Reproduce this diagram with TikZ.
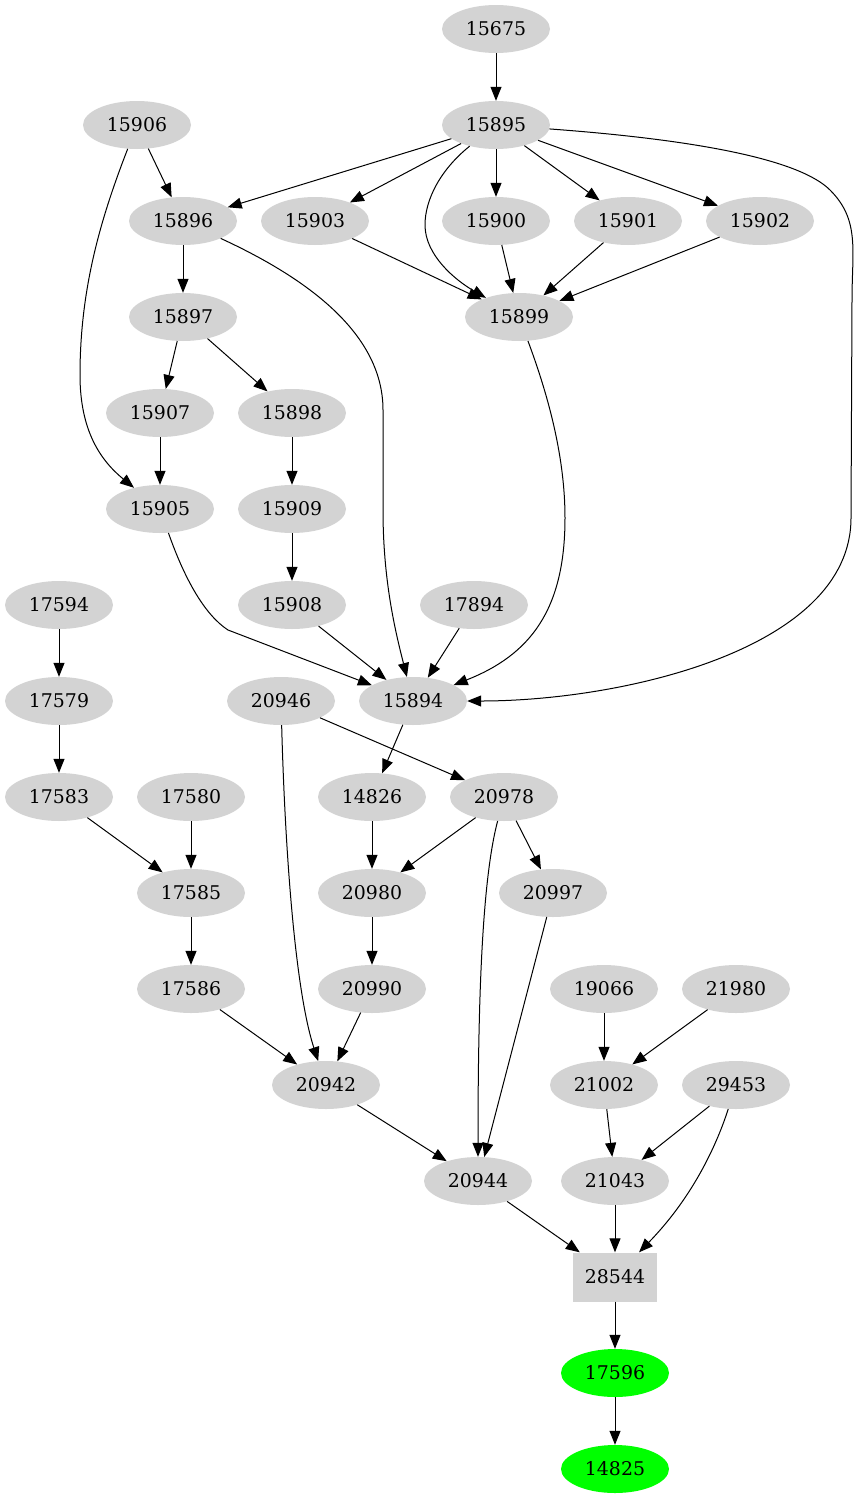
\documentclass[tikz,border=0pt]{standalone}
\usepackage{fontspec}
\setmainfont{DejaVu Serif}
\usetikzlibrary{arrows.meta,shapes.geometric}
\definecolor{ngray}{HTML}{D3D3D3}
\definecolor{ngreen}{HTML}{00FF00}
\begin{document}
\begin{tikzpicture}[x=1pt,y=-1pt,
  nd/.style={ellipse,fill=ngray,minimum width=108pt,minimum height=48pt,inner sep=0pt,font=\fontsize{18.9}{20}\selectfont},
  gn/.style={nd,fill=ngreen},
  bx/.style={rectangle,fill=ngray,minimum width=84pt,minimum height=49pt,inner sep=0pt,font=\fontsize{18.9}{20}\selectfont},
  e/.style={-{Triangle[length=14pt,width=11pt]},line width=1pt}]
\useasboundingbox (0,0) rectangle (860,1499);
% rank 0
\node[nd] (n15675) at (496,29) {15675};
% rank 1
\node[nd] (n15906) at (137,125) {15906};
\node[nd] (n15895) at (496,125) {15895};
% rank 2
\node[nd] (n15896) at (183,221) {15896};
\node[nd] (n15903) at (315,221) {15903};
\node[nd] (n15900) at (496,221) {15900};
\node[nd] (n15901) at (628,221) {15901};
\node[nd] (n15902) at (760,221) {15902};
% rank 3
\node[nd] (n15897) at (183,317) {15897};
\node[nd] (n15899) at (519,317) {15899};
% rank 4
\node[nd] (n15907) at (160,413) {15907};
\node[nd] (n15898) at (292,413) {15898};
% rank 5
\node[nd] (n15905) at (160,509) {15905};
\node[nd] (n15909) at (292,509) {15909};
% rank 6
\node[nd] (n17594) at (59,605) {17594};
\node[nd] (n15908) at (292,605) {15908};
\node[nd] (n17894) at (474,605) {17894};
% rank 7
\node[nd] (n17579) at (59,701) {17579};
\node[nd] (n20946) at (281,701) {20946};
\node[nd] (n15894) at (413,701) {15894};
% rank 8
\node[nd] (n17583) at (59,797) {17583};
\node[nd] (n17580) at (191,797) {17580};
\node[nd] (n14826) at (372,797) {14826};
\node[nd] (n20978) at (504,797) {20978};
% rank 9
\node[nd] (n17585) at (191,893) {17585};
\node[nd] (n20980) at (372,893) {20980};
\node[nd] (n20997) at (553,893) {20997};
% rank 10
\node[nd] (n17586) at (191,989) {17586};
\node[nd] (n20990) at (372,989) {20990};
\node[nd] (n19066) at (604,989) {19066};
\node[nd] (n21980) at (736,989) {21980};
% rank 11
\node[nd] (n20942) at (326,1085) {20942};
\node[nd] (n21002) at (604,1085) {21002};
\node[nd] (n29453) at (736,1085) {29453};
% rank 12
\node[nd] (n20944) at (478,1181) {20944};
\node[nd] (n21043) at (615,1181) {21043};
% rank 13
\node[bx] (n28544) at (615,1277) {28544};
% rank 14
\node[gn] (n17596) at (615,1373) {17596};
\node[gn] (n14825) at (615,1469) {14825};

% edges
\draw[e] (n15675) -- (n15895);
\draw[e] (n15895) -- (n15896);
\draw[e] (n15895) -- (n15903);
\draw[e] (n15895) -- (n15900);
\draw[e] (n15895) -- (n15901);
\draw[e] (n15895) -- (n15902);
\draw[e] (n15895) .. controls (440,170) and (425,200) .. (425,225) .. controls (425,255) and (455,280) .. (n15899);
\draw[e] (n15895) .. controls (700,140) and (800,160) .. (830,190) .. controls (860,220) and (852,250) .. (852,300) -- (851,518) .. controls (851,650) and (620,701) .. (n15894);
\draw[e] (n15906) -- (n15896);
\draw[e] (n15906) .. controls (100,220) and (80,290) .. (80,375) .. controls (80,430) and (100,460) .. (n15905);
\draw[e] (n15903) -- (n15899);
\draw[e] (n15900) -- (n15899);
\draw[e] (n15901) -- (n15899);
\draw[e] (n15902) -- (n15899);
\draw[e] (n15896) -- (n15897);
\draw[e] (n15896) .. controls (300,275) and (383,330) .. (383,410) -- (383,510) .. controls (383,580) and (395,630) .. (n15894);
\draw[e] (n15899) .. controls (550,400) and (565,460) .. (565,518) .. controls (565,610) and (530,655) .. (n15894);
\draw[e] (n15897) -- (n15907);
\draw[e] (n15897) -- (n15898);
\draw[e] (n15907) -- (n15905);
\draw[e] (n15898) -- (n15909);
\draw[e] (n15909) -- (n15908);
\draw[e] (n15905) .. controls (185,580) and (205,615) .. (228,630) -- (n15894);
\draw[e] (n15908) -- (n15894);
\draw[e] (n17894) -- (n15894);
\draw[e] (n17594) -- (n17579);
\draw[e] (n17579) -- (n17583);
\draw[e] (n17583) -- (n17585);
\draw[e] (n17580) -- (n17585);
\draw[e] (n17585) -- (n17586);
\draw[e] (n17586) -- (n20942);
\draw[e] (n20946) -- (n20978);
\draw[e] (n20946) .. controls (285,850) and (295,990) .. (n20942);
\draw[e] (n15894) -- (n14826);
\draw[e] (n14826) -- (n20980);
\draw[e] (n20978) -- (n20980);
\draw[e] (n20978) -- (n20997);
\draw[e] (n20978) .. controls (482,880) and (478,1000) .. (n20944);
\draw[e] (n20980) -- (n20990);
\draw[e] (n20990) -- (n20942);
\draw[e] (n20942) -- (n20944);
\draw[e] (n20997) -- (n20944);
\draw[e] (n19066) -- (n21002);
\draw[e] (n21980) -- (n21002);
\draw[e] (n21002) -- (n21043);
\draw[e] (n29453) -- (n21043);
\draw[e] (n29453) .. controls (715,1150) and (690,1200) .. (n28544);
\draw[e] (n20944) -- (n28544);
\draw[e] (n21043) -- (n28544);
\draw[e] (n28544) -- (n17596);
\draw[e] (n17596) -- (n14825);
\end{tikzpicture}
\end{document}
